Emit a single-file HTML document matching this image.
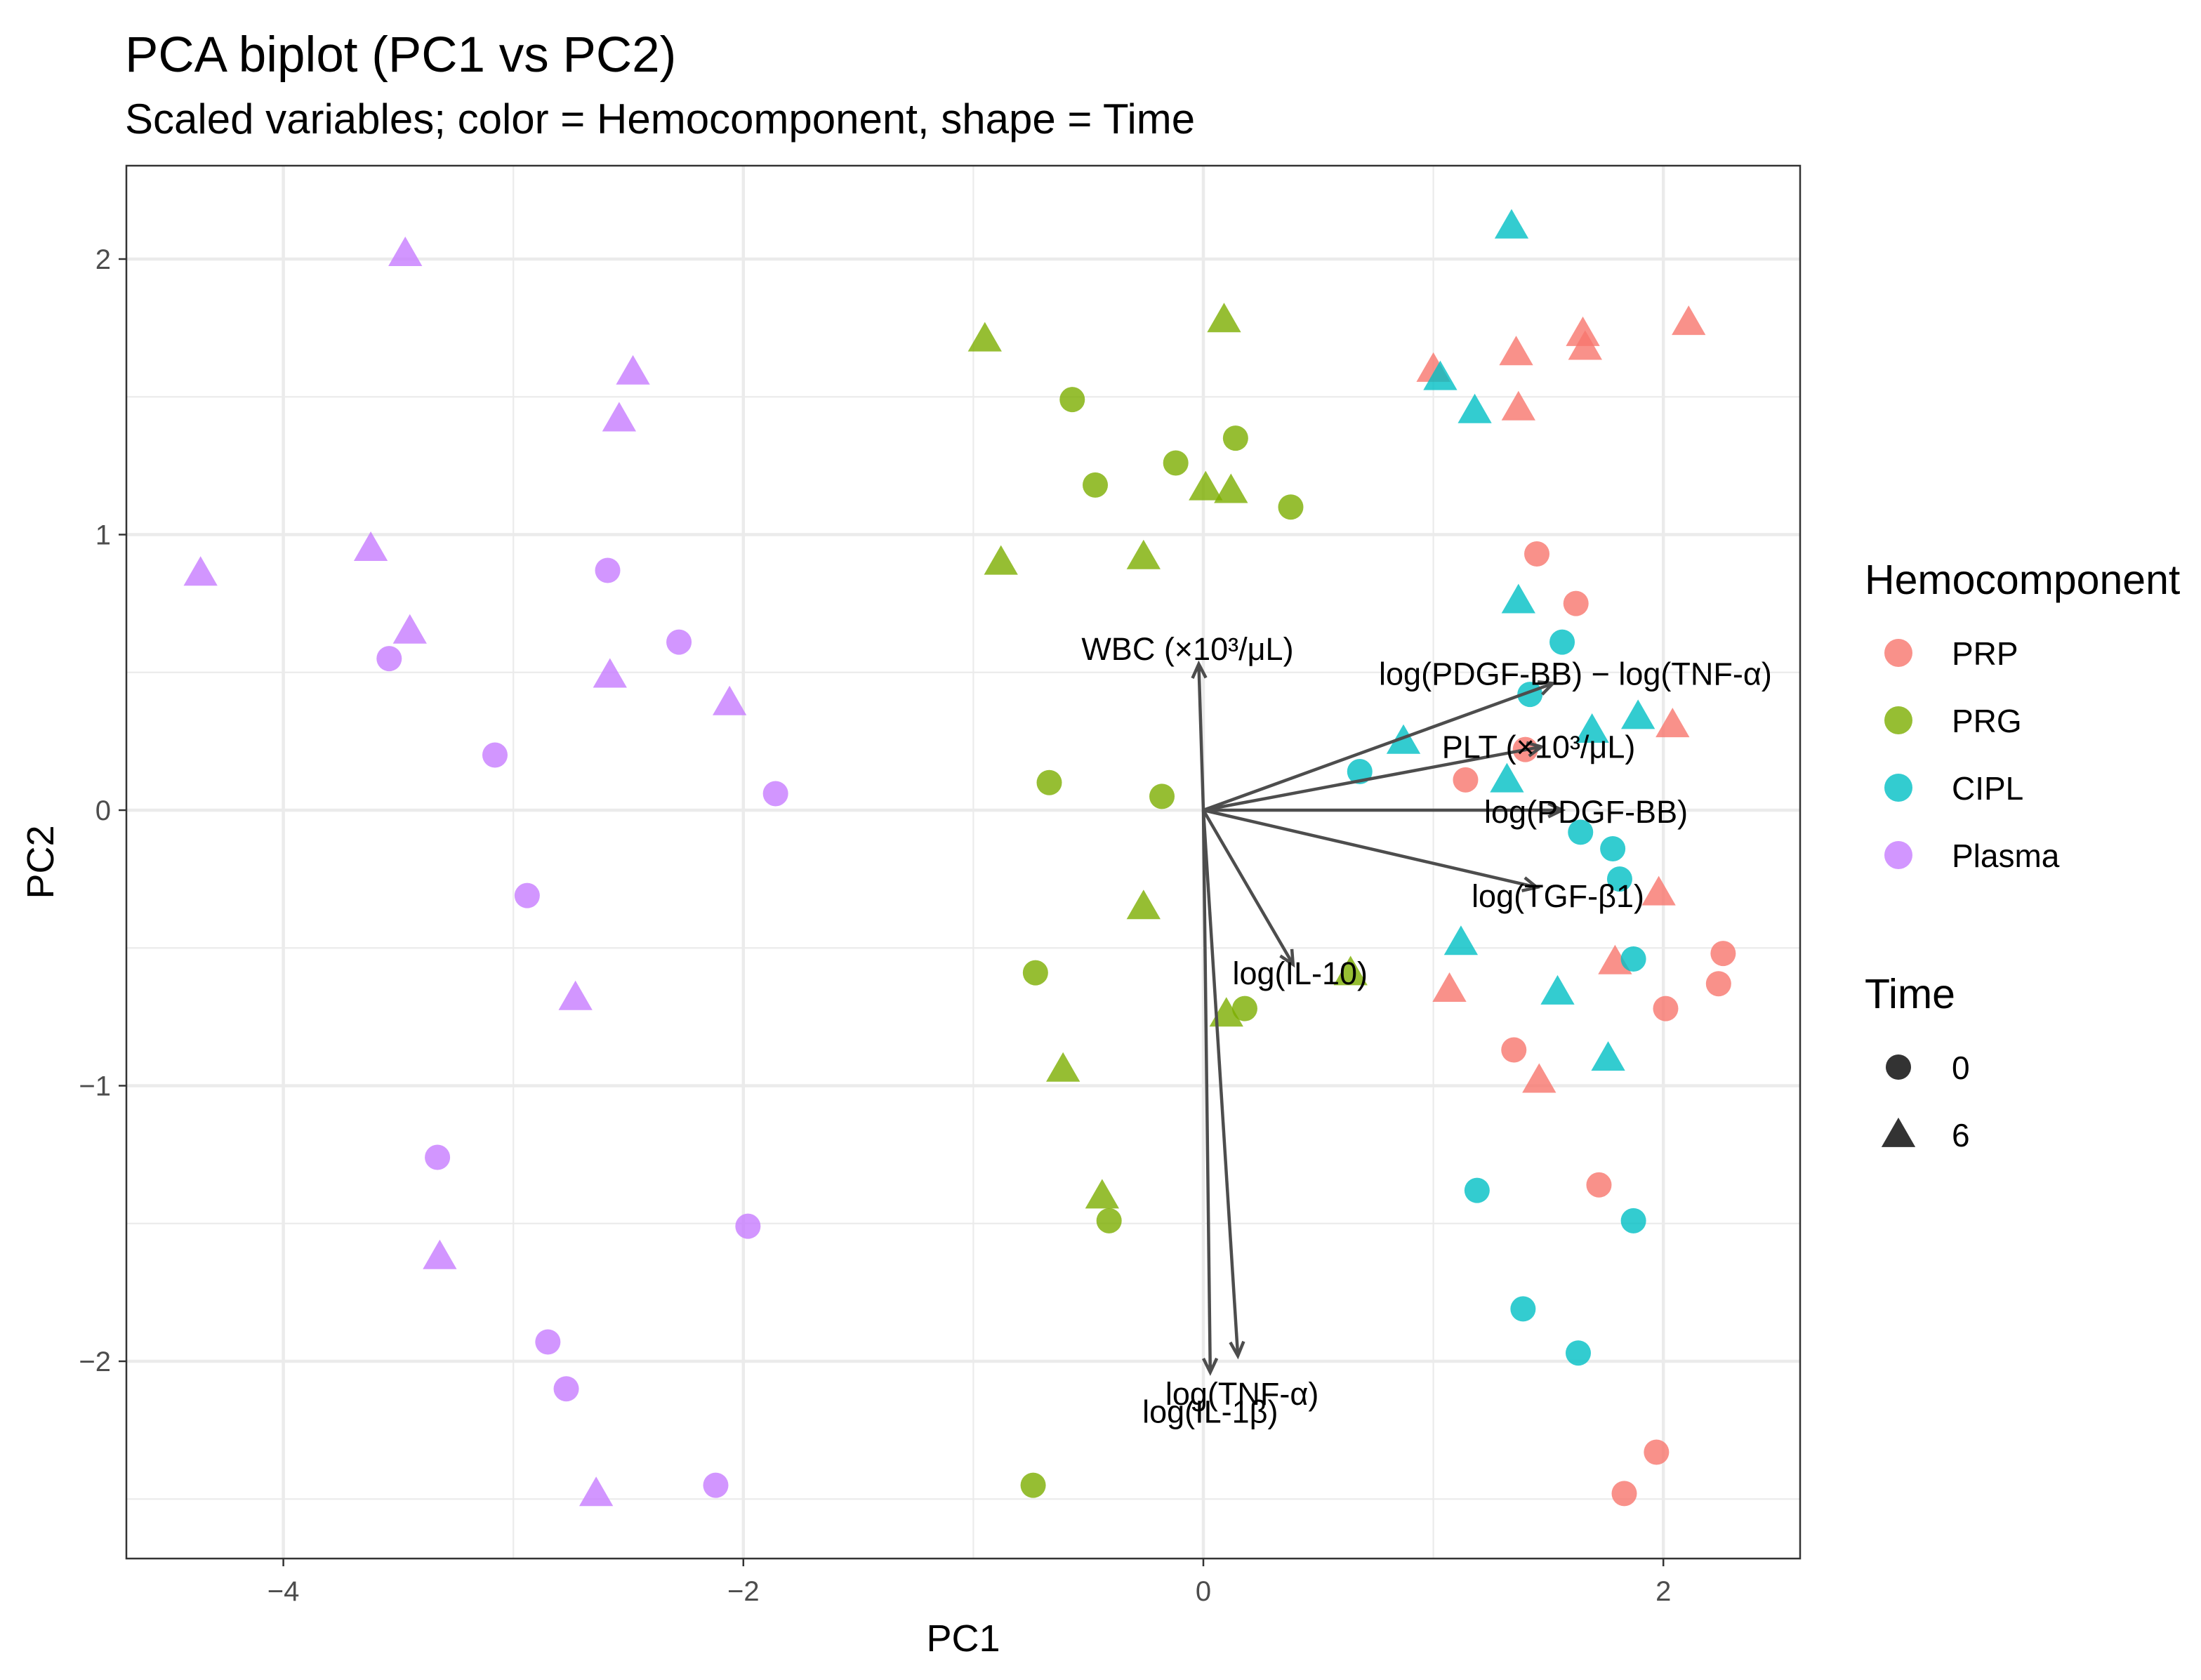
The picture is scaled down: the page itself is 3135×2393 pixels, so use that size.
<!DOCTYPE html>
<html><head><meta charset="utf-8"><style>
body{margin:0;background:#fff}
svg{display:block;font-family:"Liberation Sans",Arial,sans-serif}
</style></head><body>
<svg id="chart" width="3135" height="2393" viewBox="0 0 3135 2393">
<rect width="3135" height="2393" fill="#fff"/>
<text x="178" y="102" font-size="71" fill="#000">PCA biplot (PC1 vs PC2)</text>
<text x="178" y="190" font-size="60" fill="#000">Scaled variables; color = Hemocomponent, shape = Time</text>
<g id="grid"></g>
<g id="marks"></g>
<g id="arrows"></g>
<rect x="180" y="236" width="2384" height="1984" fill="none" stroke="#333" stroke-width="2.5"/>
<g id="axes"></g>
<text x="1372" y="2352" font-size="54" text-anchor="middle" fill="#000">PC1</text>
<text transform="translate(76,1228) rotate(-90)" font-size="54" text-anchor="middle" fill="#000">PC2</text>
<g id="legend">
<text x="2656" y="846" font-size="59" fill="#000">Hemocomponent</text>
<text x="2656" y="1436" font-size="59" fill="#000">Time</text>
</g>
</svg>
<script>
const groups = ["PRP","PRG","CIPL","Plasma"];
const colors = ["#F8766D","#7CAE00","#00BFC4","#C77CFF"];
const xTicks = [-4,-2,0,2];
const yTicks = [-2,-1,0,1,2];
const prpX = [1.00,1.36,1.37,1.65,1.66,2.11,2.04,1.98,1.79,1.07,1.46, 1.45,1.62,1.40,1.14,2.26,2.24,2.01,1.35,1.72,1.97,1.83];
const prpY = [1.60,1.66,1.46,1.73,1.68,1.77,0.31,-0.30,-0.55,-0.65,-0.98, 0.93,0.75,0.22,0.11,-0.52,-0.63,-0.72,-0.87,-1.36,-2.33,-2.48];
const prpT = [6,6,6,6,6,6,6,6,6,6,6, 0,0,0,0,0,0,0,0,0,0,0];
const prgX = [-0.95,0.09,0.01,0.12,-0.88,-0.26,-0.26,0.64,0.10,-0.61,-0.44, -0.57,-0.12,-0.47,0.14,0.38,-0.67,-0.18,-0.73,0.18,-0.41,-0.74];
const prgY = [1.71,1.78,1.17,1.16,0.90,0.92,-0.35,-0.59,-0.74,-0.94,-1.40, 1.49,1.26,1.18,1.35,1.10,0.10,0.05,-0.59,-0.72,-1.49,-2.45];
const prgT = [6,6,6,6,6,6,6,6,6,6,6, 0,0,0,0,0,0,0,0,0,0,0];
const ciplX = [1.34,1.03,1.18,1.37,0.87,1.69,1.89,1.32,1.12,1.54,1.76, 1.56,1.42,0.68,1.64,1.78,1.81,1.87,1.19,1.87,1.39,1.63];
const ciplY = [2.12,1.57,1.45,0.76,0.25,0.29,0.34,0.11,-0.48,-0.66,-0.90, 0.61,0.42,0.14,-0.08,-0.14,-0.25,-0.54,-1.38,-1.49,-1.81,-1.97];
const ciplT = [6,6,6,6,6,6,6,6,6,6,6, 0,0,0,0,0,0,0,0,0,0,0];
const plasmaX = [-3.47,-2.48,-2.54,-4.36,-3.62,-3.45,-2.58,-2.06,-2.73,-3.32,-2.64, -2.59,-3.54,-2.28,-3.08,-1.86,-2.94,-3.33,-1.98,-2.85,-2.77,-2.12];
const plasmaY = [2.02,1.59,1.42,0.86,0.95,0.65,0.49,0.39,-0.68,-1.62,-2.48, 0.87,0.55,0.61,0.20,0.06,-0.31,-1.26,-1.51,-1.93,-2.10,-2.45];
const plasmaT = [6,6,6,6,6,6,6,6,6,6,6, 0,0,0,0,0,0,0,0,0,0,0];
const loadNames = ["WBC (×10³/μL)","log(PDGF-BB) − log(TNF-α)","PLT (×10³/μL)","log(PDGF-BB)","log(TGF-β1)","log(IL-10)","log(TNF-α)","log(IL-1β)"];
const loadX = [-0.02,1.52,1.47,1.56,1.45,0.39,0.15,0.03];
const loadY = [0.53,0.46,0.23,0.00,-0.28,-0.56,-1.98,-2.04];

const NS="http://www.w3.org/2000/svg";
const X0=1714, XS=327.6, Y0=1154, YS=392.5, L=180,R=2564,T=236,B=2220;
const sx=v=>X0+v*XS, sy=v=>Y0-v*YS;
function mk(tag,attrs,parent){const e=document.createElementNS(NS,tag);for(const k in attrs)e.setAttribute(k,attrs[k]);parent.appendChild(e);return e;}
const grid=document.getElementById('grid'),marks=document.getElementById('marks'),arrows=document.getElementById('arrows'),axes=document.getElementById('axes'),legend=document.getElementById('legend');
mk('rect',{x:L,y:T,width:R-L,height:B-T,fill:'#fff'},grid);
for(let v=-5;v<=2;v++){const px=sx(v);if(px<L||px>R)continue;const major=xTicks.includes(v);
 const l=mk('line',{x1:px,x2:px,y1:T,y2:B,stroke:'#ebebeb','stroke-width':major?4.5:2.2},grid);
 
 }
for(let v=-2.5;v<=2.5;v+=0.5){const py=sy(v);if(py<T||py>B)continue;const major=yTicks.includes(v);
 const l=mk('line',{x1:L,x2:R,y1:py,y2:py,stroke:'#ebebeb','stroke-width':major?4.5:2.2},grid);
 
 }
xTicks.forEach(v=>{const px=sx(v);
 mk('line',{x1:px,x2:px,y1:B,y2:B+11,stroke:'#333','stroke-width':2.5},axes);
 const t=mk('text',{x:px,y:B+60,'font-size':40,'text-anchor':'middle',fill:'#4d4d4d'},axes);t.textContent=v<0?'−'+(-v):v;
 
 });
yTicks.forEach(v=>{const py=sy(v);
 mk('line',{x1:L-11,x2:L,y1:py,y2:py,stroke:'#333','stroke-width':2.5},axes);
 const t=mk('text',{x:L-22,y:py+14,'font-size':40,'text-anchor':'end',fill:'#4d4d4d'},axes);t.textContent=v<0?'−'+(-v):v;
 
 });
function shape(cx,cy,t,col,parent){
 if(t===0){return mk('circle',{cx:cx,cy:cy,r:18,fill:col,'fill-opacity':0.8},parent);}
 const h=21;return mk('polygon',{points:`${cx},${cy-h*1.15} ${cx-h*1.15},${cy+h*0.85} ${cx+h*1.15},${cy+h*0.85}`,fill:col,'fill-opacity':0.8},parent);}
const sets=[[prpX,prpY,prpT],[prgX,prgY,prgT],[ciplX,ciplY,ciplT],[plasmaX,plasmaY,plasmaT]];
sets.forEach((s,g)=>{s[0].forEach((x,i)=>{const e=shape(sx(x),sy(s[1][i]),s[2][i],colors[g],marks);
 
 });});
const labOff=[[-16,-6],[32,2],[-4,16],[34,18],[30,28],[10,28],[6,70],[0,72]];
loadX.forEach((x,i)=>{const x2=sx(x),y2=sy(loadY[i]);
 const ln=mk('line',{x1:X0,y1:Y0,x2:x2,y2:y2,stroke:'#4d4d4d','stroke-width':4.5},arrows);
 
 
 const a=Math.atan2(y2-Y0,x2-X0),len=22,sp=0.45;
 mk('polyline',{points:`${x2-len*Math.cos(a-sp)},${y2-len*Math.sin(a-sp)} ${x2},${y2} ${x2-len*Math.cos(a+sp)},${y2-len*Math.sin(a+sp)}`,fill:'none',stroke:'#4d4d4d','stroke-width':4.5},arrows);
 const t=mk('text',{x:x2+labOff[i][0],y:y2+labOff[i][1],'font-size':45,'text-anchor':'middle',fill:'#000'},arrows);
 t.textContent=loadNames[i];
 
 });
groups.forEach((g,i)=>{const y=930+i*96;
 const c=mk('circle',{cx:2704,cy:y,r:20,fill:colors[i],'fill-opacity':0.8},legend);
 
 
 const t=mk('text',{x:2780,y:y+17,'font-size':46,fill:'#000'},legend);t.textContent=g;
 
 });
["0","6"].forEach((lab,i)=>{const y=1520+i*96;
 const e=shape(2704,y,i===0?0:6,'#000',legend);e.setAttribute('fill-opacity',0.8);
 
 
 const t=mk('text',{x:2780,y:y+17,'font-size':46,fill:'#000'},legend);t.textContent=lab;
 
 });
</script>
</body></html>
